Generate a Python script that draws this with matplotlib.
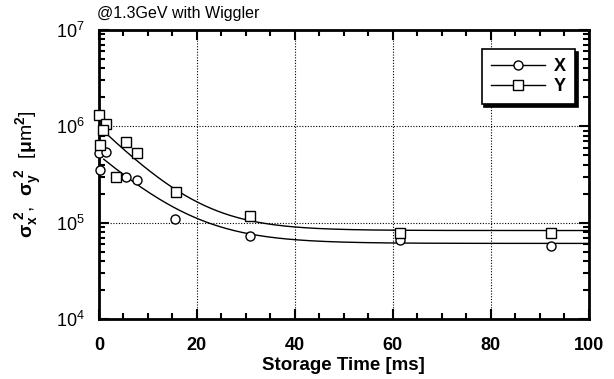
import numpy as np
import matplotlib.pyplot as plt
from matplotlib.ticker import MultipleLocator, LogLocator, NullFormatter

plt.rcParams['font.family'] = ['Liberation Sans', 'DejaVu Sans']
plt.rcParams['mathtext.fontset'] = 'custom'
plt.rcParams['mathtext.rm'] = 'Liberation Sans:bold'
plt.rcParams['mathtext.it'] = 'Liberation Sans:bold'
plt.rcParams['mathtext.bf'] = 'Liberation Sans:bold'

# measured points (storage time in ms, beam size squared in um^2)
t_x = [0.0, 1.5, 0.3, 5.5, 7.7, 15.6, 30.8, 61.4, 92.2]
sig_x = [5.3e5, 5.4e5, 3.5e5, 3.0e5, 2.75e5, 1.1e5, 7.3e4, 6.6e4, 5.7e4]

t_y = [0.0, 1.5, 0.75, 0.2, 5.5, 7.7, 3.5, 15.7, 30.8, 61.4, 92.2]
sig_y = [1.3e6, 1.07e6, 9.2e5, 6.4e5, 6.9e5, 5.3e5, 3.0e5, 2.1e5, 1.18e5, 7.9e4, 7.9e4]

# exponential fit parameters: a + b*exp(-t/tau)
fit_x = (6.1e4, 4.4e5, 9.2)
fit_y = (8.3e4, 9.1e5, 8.3)

fig = plt.figure(figsize=(6.14, 3.79), dpi=100)
ax = fig.add_axes([0.161, 0.158, 0.798, 0.763])

tt = np.linspace(1.0, 100, 300)
for (a, b, tau) in (fit_x, fit_y):
    ax.plot(tt, a + b * np.exp(-tt / tau), color='black', lw=1.0)

ax.plot(t_x, sig_x, 'o', ms=6.5, mfc='white', mec='black', mew=1.0, clip_on=False, zorder=3)
ax.plot(t_y, sig_y, 's', ms=7, mfc='white', mec='black', mew=1.0, clip_on=False, zorder=3)

# legend handles
hx, = ax.plot([], [], '-o', color='black', lw=1.0, ms=6.5, mfc='white', mew=1.0)
hy, = ax.plot([], [], '-s', color='black', lw=1.0, ms=7, mfc='white', mew=1.0)
leg = ax.legend([hx, hy], ['X', 'Y'], loc='upper right', bbox_to_anchor=(0.99, 0.965),
                frameon=True, fancybox=False, shadow={'color': 'black', 'alpha': 1.0},
                edgecolor='black', prop={'size': 13, 'weight': 'bold'},
                handlelength=3.0, borderpad=0.5, labelspacing=0.15, handletextpad=0.5)
leg.get_frame().set_linewidth(1.2)

ax.set_yscale('log')
ax.set_xlim(0, 100)
ax.set_ylim(1e4, 1e7)
ax.xaxis.set_major_locator(MultipleLocator(20))
ax.xaxis.set_minor_locator(MultipleLocator(5))
ax.yaxis.set_major_locator(LogLocator(base=10, numticks=10))
ax.yaxis.set_minor_locator(LogLocator(base=10, subs=np.arange(2, 10), numticks=10))
ax.yaxis.set_minor_formatter(NullFormatter())

ax.grid(True, which='major', linestyle=(0, (1, 1.5)), color='black', lw=0.8)
ax.tick_params(which='both', direction='in', top=True, right=True, width=1.5)
ax.tick_params(which='major', length=7)
ax.tick_params(axis='x', which='major', labelsize=13, pad=13)
ax.tick_params(axis='y', which='major', labelsize=13, pad=10)
ax.tick_params(which='minor', length=4)
for lab in ax.get_xticklabels():
    lab.set_fontweight('bold')
for sp in ax.spines.values():
    sp.set_linewidth(2)

ax.set_xlabel('Storage Time [ms]', fontsize=13.5, fontweight='bold', labelpad=2)
ax.set_ylabel(r'$\sigma_x^{\ 2}$,  $\sigma_y^{\ 2}$  [$\mu$m$^2$]', fontsize=14, labelpad=9)

fig.text(0.158, 0.965, '@1.3GeV with Wiggler', fontsize=11.5, ha='left', va='center')

fig.savefig('out.png', dpi=100)
